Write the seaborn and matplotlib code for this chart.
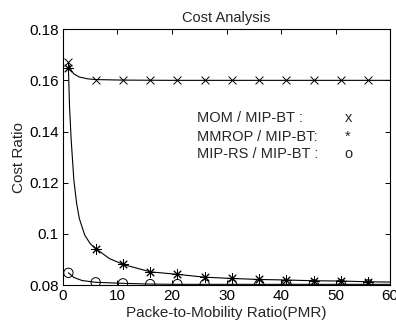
import matplotlib
matplotlib.use("Agg")
import matplotlib.pyplot as plt
import seaborn as sns

# Smooth curves
mom_x = [1, 1.5, 2, 3, 4.5, 6, 11, 20, 30, 40, 50, 60]
mom_y = [0.1665, 0.1640, 0.1625, 0.1613, 0.1606, 0.1603, 0.1601, 0.1600, 0.1600, 0.1600, 0.1600, 0.1600]

mmrop_x = [1, 1.2, 1.5, 2, 2.5, 3, 4, 5, 6, 8.5, 11, 16, 21, 26, 31, 36, 41, 46, 51, 56, 60]
mmrop_y = [0.1650, 0.150, 0.137, 0.121, 0.112, 0.106, 0.0995, 0.0962, 0.0943, 0.0904, 0.0881, 0.0852,
           0.0842, 0.0831, 0.0826, 0.0822, 0.0820, 0.0817, 0.0816, 0.0813, 0.0812]

rs_x = [1, 2, 3.5, 6, 11, 16, 21, 30, 40, 50, 60]
rs_y = [0.0848, 0.0830, 0.0818, 0.0811, 0.0807, 0.0804, 0.0803, 0.0803, 0.0803, 0.0803, 0.0803]

# Marker positions
mark_x = [1, 6, 11, 16, 21, 26, 31, 36, 41, 46, 51, 56]
mom_m = [0.1670, 0.1603, 0.1601, 0.1601, 0.1601, 0.1601, 0.1601, 0.1601, 0.1601, 0.1601, 0.1601, 0.1601]
mmrop_m = [0.1650, 0.0943, 0.0881, 0.0852, 0.0842, 0.0831, 0.0826, 0.0822, 0.0820, 0.0817, 0.0816, 0.0813]
rs_m = [0.0848, 0.0811, 0.0807, 0.0804, 0.0804, 0.0803, 0.0803, 0.0803, 0.0803, 0.0803, 0.0803, 0.0803]

legend_labels = ["MOM / MIP-BT :", "MMROP / MIP-BT:", "MIP-RS / MIP-BT :"]
legend_syms = ["x", "*", "o"]

sns.set_style("ticks")
plt.rcParams['font.family'] = ['Liberation Sans', 'DejaVu Sans']

fig = plt.figure(figsize=(3.96, 3.24), dpi=100)
ax = fig.add_axes([0.159, 0.120, 0.826, 0.790])

lw = 0.8
for xs, ys in [(mom_x, mom_y), (mmrop_x, mmrop_y), (rs_x, rs_y)]:
    sns.lineplot(x=xs, y=ys, ax=ax, color='k', linewidth=lw, dashes=False)

sns.scatterplot(x=mark_x, y=mom_m, ax=ax, color='k', marker='x', s=32, linewidth=0.7, zorder=3)
sns.scatterplot(x=mark_x, y=mmrop_m, ax=ax, color='k', marker=(8, 2, 0), s=48, linewidth=0.7, zorder=3)
sns.scatterplot(x=mark_x, y=rs_m, ax=ax, marker='o', s=45, facecolor='none', edgecolor='k',
                linewidth=0.7, zorder=3)

ax.set_xlim(0, 60)
ax.set_ylim(0.08, 0.18)
ax.set_xticks([0, 10, 20, 30, 40, 50, 60])
ax.set_yticks([0.08, 0.10, 0.12, 0.14, 0.16, 0.18])
ax.set_yticklabels(["0.08", "0.1", "0.12", "0.14", "0.16", "0.18"])
ax.tick_params(direction='in', length=3.5, width=0.7, top=True, right=True,
               labelsize=11, pad=3, colors='k')
for s in ax.spines.values():
    s.set_visible(True)
    s.set_linewidth(0.8)
    s.set_color('k')

ax.set_title("Cost Analysis", fontsize=10.5, pad=5)
ax.set_xlabel("Packe-to-Mobility Ratio(PMR)", fontsize=11, labelpad=2)
ax.set_ylabel("Cost Ratio", fontsize=11, labelpad=2)

for lab, sym, yy in zip(legend_labels, legend_syms, [0.1452, 0.1378, 0.1312]):
    ax.text(24.6, yy, lab, fontsize=10.5, va='center', ha='left')
    ax.text(52.3, yy, sym, fontsize=10.5, va='center', ha='center')

fig.savefig("out.png", dpi=100)
